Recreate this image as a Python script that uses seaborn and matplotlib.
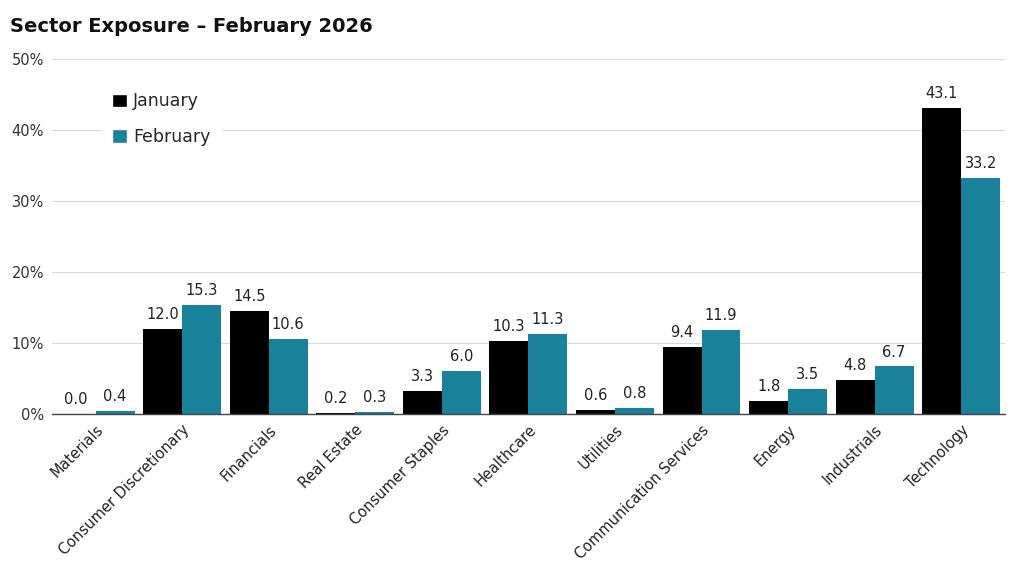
import pandas as pd
import matplotlib.pyplot as plt
import seaborn as sns
from matplotlib.patches import Patch

sectors = ["Materials", "Consumer Discretionary", "Financials", "Real Estate",
           "Consumer Staples", "Healthcare", "Utilities", "Communication Services",
           "Energy", "Industrials", "Technology"]
january = [0.0, 12.0, 14.5, 0.2, 3.3, 10.3, 0.6, 9.4, 1.8, 4.8, 43.1]
february = [0.4, 15.3, 10.6, 0.3, 6.0, 11.3, 0.8, 11.9, 3.5, 6.7, 33.2]
y_ticks = [0, 10, 20, 30, 40, 50]

colors = {"January": "#000000", "February": "#1a819b"}

sns.set_style("white")
plt.rcParams["font.family"] = ["DejaVu Sans"]

df = pd.DataFrame({
    "Sector": sectors * 2,
    "Month": ["January"] * len(sectors) + ["February"] * len(sectors),
    "Value": january + february,
})

fig = plt.figure(figsize=(10.25, 5.86), dpi=100)
ax = fig.add_axes([0.051, 0.2935, 0.929, 0.6055])

sns.barplot(data=df, x="Sector", y="Value", hue="Month", palette=colors,
            width=0.9, gap=0, ax=ax, legend=False, saturation=1, linewidth=0)

for cont in ax.containers:
    ax.bar_label(cont, fmt="%.1f", padding=5, fontsize=10.5, color="#222222")

ax.set_ylim(0, 50)
ax.set_yticks(y_ticks)
ax.set_yticklabels([f"{t}%" for t in y_ticks], fontsize=10.5, color="#333333")
ax.yaxis.grid(True, color="#d9d9d9", linewidth=0.8)
ax.set_axisbelow(True)
ax.set_xlim(-0.5, len(sectors) - 0.5)
ax.set_xticks(range(len(sectors)))
ax.set_xticklabels(sectors, rotation=45, ha="right", rotation_mode="anchor",
                   fontsize=10.5, color="#222222")
ax.tick_params(axis="both", length=0, pad=6)
ax.set_xlabel("")
ax.set_ylabel("")
for s in ["top", "right", "left"]:
    ax.spines[s].set_visible(False)
ax.spines["bottom"].set_color("#444444")
ax.spines["bottom"].set_linewidth(1.0)

handles = [Patch(facecolor=colors[m], label=m) for m in ["January", "February"]]
leg = ax.legend(handles=handles, loc="upper left", bbox_to_anchor=(0.043, 0.96),
                frameon=True, fontsize=12.5, handlelength=0.85, handleheight=0.85,
                handletextpad=0.35, labelspacing=1.0, borderpad=0.6)
leg.get_frame().set_facecolor("white")
leg.get_frame().set_edgecolor("white")
leg.get_frame().set_alpha(1)

fig.text(0.01, 0.955, "Sector Exposure \u2013 February 2026", fontsize=14,
         fontweight="bold", ha="left", va="center", color="#111111")

fig.savefig("out.png", dpi=100)
